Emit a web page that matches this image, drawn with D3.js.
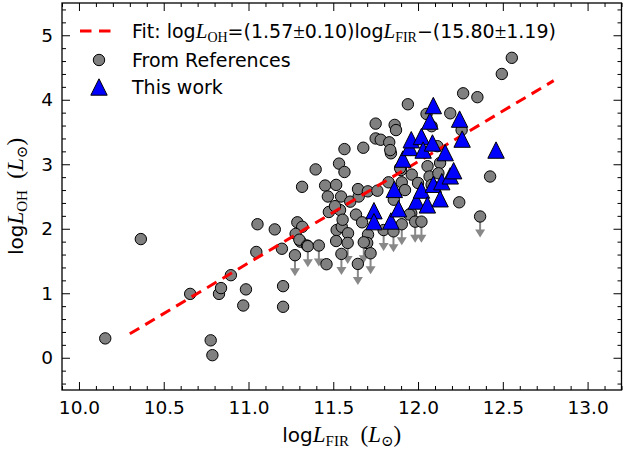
<!DOCTYPE html>
<html>
<head>
<meta charset="utf-8">
<script src="https://cdn.jsdelivr.net/npm/d3@7"></script>
<style>
    body { margin: 0; background: #fff; }
    svg { font-family: 'DejaVu Sans', sans-serif; }
    text { white-space: pre; }
</style>
</head>
<body>
<div id="chart"></div>
<script>
// Literature detections (grey circles)
const refX = [10.155, 10.365, 10.656, 10.777, 10.787, 10.826, 10.838, 10.896, 10.969, 10.985,
    11.053, 11.046, 11.155, 11.197, 11.204, 11.204, 11.288, 11.317, 11.278, 11.307,
    11.316, 11.396, 11.452, 11.468, 11.517, 11.534, 11.566, 11.566, 11.546, 11.474,
    11.54, 11.52, 11.55, 11.587, 11.517, 11.46, 11.60, 11.65, 11.646, 11.677,
    11.704, 11.634, 11.67, 11.705, 11.70, 11.75, 11.75, 11.78, 11.76, 11.83,
    11.84, 11.836, 11.826, 11.862, 11.87, 11.857, 11.904, 11.923, 11.90, 11.963,
    11.96, 11.949, 11.94, 11.894, 12.00, 12.056, 12.068, 12.08, 12.05, 12.08,
    12.114, 12.13, 12.12, 12.19, 12.243, 12.257, 12.266, 12.35, 12.425, 12.494,
    12.553, 11.51, 11.555, 11.30, 11.345];
const refY = [0.30, 1.84, 0.99, 0.27, 0.04, 0.99, 1.08, 1.28, 0.81, 1.06,
    2.07, 1.64, 1.99, 1.69, 1.11, 0.79, 2.10, 2.03, 1.92, 1.80,
    2.65, 2.92, 2.67, 2.50, 2.68, 3.01, 2.88, 3.235, 2.50, 2.26,
    2.29, 1.98, 2.03, 1.93, 1.81, 1.45, 2.42, 2.50, 2.615, 3.256,
    2.58, 2.22, 2.10, 1.91, 1.78, 3.63, 3.40, 3.38, 2.59, 3.34,
    3.17, 3.22, 2.72, 3.61, 3.53, 2.45, 2.72, 2.60, 2.91, 2.84,
    2.24, 2.22, 3.93, 2.94, 2.71, 2.97, 2.81, 2.68, 3.78, 3.59,
    3.28, 3.02, 2.86, 3.79, 2.41, 3.53, 4.10, 4.04, 2.81, 4.40,
    4.65, 2.35, 2.14, 1.83, 1.74];

// Literature upper limits (grey circles with arrows)
const limX = [11.274, 11.35, 11.415, 11.548, 11.585, 11.645, 11.68, 11.72, 11.797, 11.855,
    11.904, 11.983, 12.02, 12.366];
const limY = [1.59, 1.73, 1.74, 1.61, 1.78, 1.455, 1.79, 1.62, 1.98, 1.96,
    2.07, 2.11, 2.11, 2.19];

// This work (blue triangles)
const workX = [11.74, 11.74, 11.84, 11.86, 11.885, 11.91, 11.95, 11.96, 11.99, 12.02,
    12.02, 12.03, 12.055, 12.07, 12.09, 12.085, 12.09, 12.13, 12.14, 12.16,
    12.19, 12.21, 12.245, 12.26, 12.46];
const workY = [2.28, 2.11, 2.12, 2.61, 2.31, 3.08, 3.26, 3.38, 2.43, 3.43,
    2.60, 3.22, 2.37, 3.67, 3.91, 3.33, 2.69, 2.465, 2.73, 3.18,
    2.82, 2.90, 3.70, 3.39, 3.22];

// Linear fit: logL_OH = slope * logL_FIR + intercept
const fitSlope = 1.57;
const fitIntercept = -15.80;
const fitRange = [10.3, 12.8];

const xMajor = [10.0, 10.5, 11.0, 11.5, 12.0, 12.5, 13.0];
const yMajor = [0, 1, 2, 3, 4, 5];
const limitDrop = 0.31;

const width = 623, height = 452;
const box = { left: 62, right: 621.5, top: 3, bottom: 390 };

const svg = d3.select('#chart').append('svg')
    .attr('width', width)
    .attr('height', height);

const x = d3.scaleLinear().domain([9.9, 13.2]).range([box.left, box.right]);
const y = d3.scaleLinear().domain([-0.5, 5.5]).range([box.bottom, box.top]);

const xMinor = d3.range(99, 133).map(d => d / 10).filter(d => !xMajor.some(m => Math.abs(m - d) < 1e-6));
const yMinor = d3.range(-2, 28).map(d => d / 5).filter(d => !yMajor.some(m => Math.abs(m - d) < 1e-6));

// Axes: inward ticks on all four sides
function tickAxis(axis, pos, values, size, labels) {
    const g = svg.append('g')
        .attr('transform', pos)
        .call(axis.tickValues(values).tickSize(-size).tickFormat(labels || ''));
    g.select('.domain').remove();
    g.selectAll('.tick line').attr('stroke', '#000').attr('stroke-width', 1);
    return g;
}

const bottomAxis = tickAxis(d3.axisBottom(x).tickPadding(11), `translate(0,${box.bottom})`, xMajor, 8, d3.format('.1f'));
tickAxis(d3.axisBottom(x), `translate(0,${box.bottom})`, xMinor, 4);
tickAxis(d3.axisTop(x), `translate(0,${box.top})`, xMajor, 8);
tickAxis(d3.axisTop(x), `translate(0,${box.top})`, xMinor, 4);
const leftAxis = tickAxis(d3.axisLeft(y).tickPadding(9), `translate(${box.left},0)`, yMajor, 8, d3.format('d'));
tickAxis(d3.axisLeft(y), `translate(${box.left},0)`, yMinor, 4);
tickAxis(d3.axisRight(y), `translate(${box.right},0)`, yMajor, 8);
tickAxis(d3.axisRight(y), `translate(${box.right},0)`, yMinor, 4);

bottomAxis.selectAll('text').attr('font-size', 18.5).attr('fill', '#000').attr('font-family', "'DejaVu Sans', sans-serif");
leftAxis.selectAll('text').attr('font-size', 18.5).attr('fill', '#000').attr('font-family', "'DejaVu Sans', sans-serif");

// Rich text with matplotlib-like mathtext pieces
function rich(sel, parts) {
    let shift = 0;
    parts.forEach(p => {
        const ts = sel.append('tspan').text(p.t);
        if (p.serif) ts.attr('font-family', "'Liberation Serif', 'DejaVu Serif', serif");
        if (p.italic) ts.attr('font-style', 'italic');
        if (p.size) ts.attr('font-size', p.size);
        const want = p.sub ? 4 : 0;
        if (want !== shift) { ts.attr('dy', want - shift); shift = want; }
    });
}

const axisLabelParts = sub => [
    { t: 'log', size: 20 },
    { t: 'L', serif: true, italic: true, size: 23 },
    { t: sub, serif: true, sub: true, size: 15 },
    { t: '  (', serif: true, size: 23 },
    { t: 'L', serif: true, italic: true, size: 23 },
    { t: '⊙', serif: true, sub: true, size: 15 },
    { t: ')', serif: true, size: 23 }
];

const xLabel = svg.append('text')
    .attr('x', (box.left + box.right) / 2)
    .attr('y', 442)
    .attr('text-anchor', 'middle');
rich(xLabel, axisLabelParts('FIR'));

const yLabel = svg.append('text')
    .attr('transform', `translate(23,${(box.top + box.bottom) / 2}) rotate(-90)`)
    .attr('text-anchor', 'middle');
rich(yLabel, axisLabelParts('OH'));

const plot = svg.append('g');

// Upper-limit arrows (behind the circles)
limX.forEach((lx, i) => {
    const x0 = x(lx), y0 = y(limY[i]), y1 = y(limY[i] - limitDrop);
    plot.append('line')
        .attr('x1', x0).attr('x2', x0)
        .attr('y1', y0).attr('y2', y1 - 5)
        .attr('stroke', '#888')
        .attr('stroke-width', 2);
    plot.append('path')
        .attr('d', 'M-5,-7 L5,-7 L0,1 Z')
        .attr('transform', `translate(${x0},${y1})`)
        .attr('fill', '#888');
});

const circleX = refX.concat(limX);
const circleY = refY.concat(limY);
plot.selectAll('.ref-point')
    .data(circleX)
    .enter().append('circle')
    .attr('class', 'ref-point')
    .attr('cx', d => x(d))
    .attr('cy', (d, i) => y(circleY[i]))
    .attr('r', 5.7)
    .attr('fill', '#808080')
    .attr('stroke', '#000')
    .attr('stroke-width', 1);

// Fit line
const fitLine = d3.line()
    .x(d => x(d))
    .y(d => y(fitSlope * d + fitIntercept));
plot.append('path')
    .datum(fitRange)
    .attr('d', fitLine)
    .attr('fill', 'none')
    .attr('stroke', '#ff0000')
    .attr('stroke-width', 3)
    .attr('stroke-dasharray', '11,7');

const tri = 'M0,-8.2 L8.2,8.2 L-8.2,8.2 Z';
plot.selectAll('.work-point')
    .data(workX)
    .enter().append('path')
    .attr('class', 'work-point')
    .attr('d', tri)
    .attr('transform', (d, i) => `translate(${x(d)},${y(workY[i])})`)
    .attr('fill', '#0000ff')
    .attr('stroke', '#000')
    .attr('stroke-width', 1);

// Frame
svg.append('rect')
    .attr('x', box.left).attr('y', box.top)
    .attr('width', box.right - box.left)
    .attr('height', box.bottom - box.top)
    .attr('fill', 'none')
    .attr('stroke', '#000')
    .attr('stroke-width', 1.3);

// Legend
const legend = svg.append('g');
legend.append('line')
    .attr('x1', 80).attr('x2', 111)
    .attr('y1', 31).attr('y2', 31)
    .attr('stroke', '#ff0000')
    .attr('stroke-width', 3)
    .attr('stroke-dasharray', '11.5,7.5');
legend.append('circle')
    .attr('cx', 99).attr('cy', 60).attr('r', 5.7)
    .attr('fill', '#808080').attr('stroke', '#000');
legend.append('path')
    .attr('d', tri)
    .attr('transform', 'translate(99,87)')
    .attr('fill', '#0000ff').attr('stroke', '#000');

const fitText = legend.append('text')
    .attr('x', 132).attr('y', 38)
    .attr('font-size', 19);
rich(fitText, [
    { t: 'Fit: log' },
    { t: 'L', serif: true, italic: true, size: 21 },
    { t: 'OH', serif: true, sub: true, size: 14 },
    { t: '=(1.57' },
    { t: '±', serif: true, size: 21 },
    { t: '0.10)log' },
    { t: 'L', serif: true, italic: true, size: 21 },
    { t: 'FIR', serif: true, sub: true, size: 14 },
    { t: '−(15.80' },
    { t: '±', serif: true, size: 21 },
    { t: '1.19)' }
]);
legend.append('text')
    .attr('x', 132).attr('y', 67)
    .attr('font-size', 19)
    .text('From References');
legend.append('text')
    .attr('x', 132).attr('y', 94)
    .attr('font-size', 19)
    .text('This work');
</script>
</body>
</html>
